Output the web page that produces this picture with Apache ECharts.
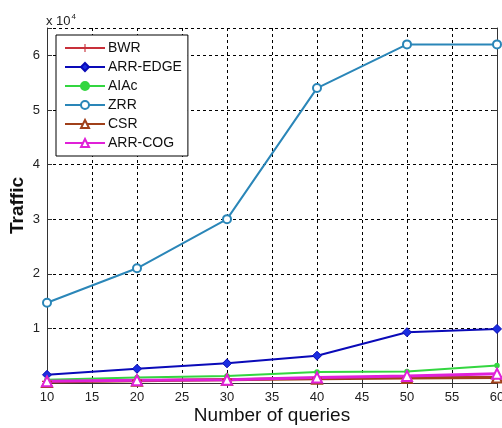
<!DOCTYPE html>
<html>
<head>
<meta charset="utf-8">
<script src="https://cdn.jsdelivr.net/npm/echarts@6/dist/echarts.min.js"></script>
<style>
  html, body { margin: 0; padding: 0; background: #fff; }
  #chart { width: 502px; height: 428px; }
</style>
</head>
<body>
<div id="chart"></div>
<script>
// Traffic versus number of queries for six routing schemes
const queries = [10, 20, 30, 40, 50, 60];
const bwr     = [300, 500, 700, 900, 1000, 1100];
const arrEdge = [1500, 2600, 3600, 5000, 9300, 9900];
const aiac    = [600, 1000, 1300, 2000, 2100, 3200];
const zrr     = [14700, 21000, 30000, 54000, 62000, 62000];
const csr     = [200, 400, 600, 800, 900, 1000];
const arrCog  = [300, 500, 600, 1000, 1300, 1700];
const xTicks = [10, 15, 20, 25, 30, 35, 40, 45, 50, 55, 60];
const yTicks = [1, 2, 3, 4, 5, 6];   // in units of 10^4

const FONT = 'Liberation Sans, Arial, sans-serif';
const plusSymbol = 'path://M4.3,0h1.4v10h-1.4zM0,4.3h10v1.4h-10z';

function pairs(vals) { return queries.map((q, i) => [q, vals[i]]); }

function mkSeries(name, vals, color, symbol, size, extra) {
  return Object.assign({
    name: name,
    type: 'line',
    data: pairs(vals),
    symbol: symbol,
    symbolSize: size,
    showAllSymbol: true,
    lineStyle: { color: color, width: 2 },
    itemStyle: { color: color, borderColor: color, borderWidth: 1.5 },
    emphasis: { disabled: true },
    animation: false
  }, extra || {});
}

const chart = echarts.init(document.getElementById('chart'), null, { renderer: 'canvas' });

const gridLine = { show: true, lineStyle: { color: '#000', type: [3, 3], width: 1 } };

chart.setOption({
  backgroundColor: '#fff',
  animation: false,
  textStyle: { fontFamily: FONT },
  grid: { left: 47, right: 5, top: 28, bottom: 45, containLabel: false, outerBoundsMode: 'none' },
  title: {
    text: '{a|x 10}{b|4}',
    left: 41, top: 8,
    textStyle: {
      fontWeight: 'normal',
      rich: {
        a: { fontSize: 13, fontWeight: 'normal', fontFamily: FONT, color: '#222' },
        b: { fontSize: 8, fontWeight: 'normal', fontFamily: FONT, color: '#222', verticalAlign: 'top', padding: [0, 0, 8, 1] }
      }
    }
  },
  legend: {
    orient: 'vertical',
    left: 56, top: 35,
    padding: [6, 6, 6, 8],
    itemWidth: 40, itemHeight: 10,
    itemGap: 5,
    borderColor: '#000', borderWidth: 1,
    backgroundColor: '#fff',
    textStyle: { fontSize: 14, lineHeight: 14, fontFamily: FONT, color: '#111', padding: [0, 0, 0, -2] },
    data: ['BWR', 'ARR-EDGE', 'AIAc', 'ZRR', 'CSR', 'ARR-COG']
  },
  xAxis: [{
    type: 'value',
    min: 10, max: 60, interval: 5,
    name: 'Number of queries',
    nameLocation: 'middle',
    nameGap: 23,
    nameMoveOverlap: false,
    nameTextStyle: { fontSize: 19, fontFamily: FONT, color: '#111' },
    axisLine: { show: true, onZero: false, lineStyle: { color: '#333', width: 1 } },
    axisTick: { show: true, inside: true, length: 5, lineStyle: { color: '#333' } },
    axisLabel: {
      fontSize: 13, color: '#222', margin: 8,
      formatter: v => xTicks.includes(v) ? String(v) : ''
    },
    splitLine: gridLine
  }, {
    type: 'value', position: 'top',
    min: 10, max: 60, interval: 5,
    axisLine: { show: true, lineStyle: { color: '#333', width: 1 } },
    axisTick: { show: true, inside: true, length: 5, lineStyle: { color: '#333' } },
    axisLabel: { show: false },
    splitLine: { show: false }
  }],
  yAxis: [{
    type: 'value',
    min: 0, max: 65000, interval: 10000,
    name: 'Traffic',
    nameLocation: 'middle',
    nameGap: 20,
    nameMoveOverlap: false,
    nameTextStyle: { fontSize: 19, fontWeight: 'bold', fontFamily: FONT, color: '#111' },
    axisLine: { show: true, lineStyle: { color: '#333', width: 1 } },
    axisTick: { show: true, inside: true, length: 5, lineStyle: { color: '#333' } },
    axisLabel: {
      fontSize: 13, color: '#222', margin: 7,
      formatter: v => yTicks.includes(v / 10000) ? String(v / 10000) : ''
    },
    splitLine: gridLine
  }, {
    type: 'value', position: 'right',
    min: 0, max: 65000, interval: 10000,
    axisLine: { show: true, lineStyle: { color: '#333', width: 1 } },
    axisTick: { show: true, inside: true, length: 5, lineStyle: { color: '#333' } },
    axisLabel: { show: false },
    splitLine: { show: false }
  }],
  series: [
    mkSeries('BWR', bwr, '#c8303a', plusSymbol, 10, { itemStyle: { color: '#c8303a', borderWidth: 0 } }),
    mkSeries('ARR-EDGE', arrEdge, '#0a0ab8', 'diamond', 9, { itemStyle: { color: '#1a2ee0', borderColor: '#0a0ab8', borderWidth: 1 } }),
    mkSeries('AIAc', aiac, '#33d640', 'circle', 4),
    mkSeries('ZRR', zrr, '#2a86b8', 'emptyCircle', 8, { itemStyle: { color: '#2a86b8', borderColor: '#2a86b8', borderWidth: 1.5 } }),
    mkSeries('CSR', csr, '#a0401a', 'emptyTriangle', 10, { lineStyle: { color: '#a0401a', width: 3 } }),
    mkSeries('ARR-COG', arrCog, '#e020d8', 'emptyTriangle', 10, { lineStyle: { color: '#e020d8', width: 3 } })
  ]
});
</script>
</body>
</html>
